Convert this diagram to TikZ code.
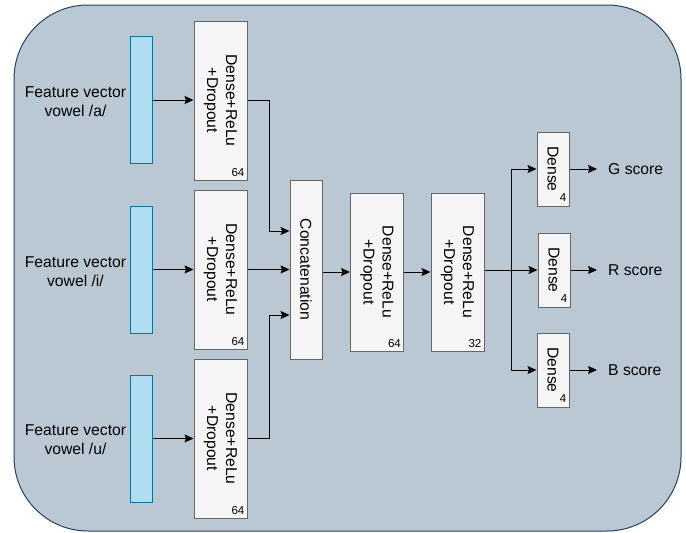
\documentclass[tikz,border=0pt]{standalone}
\usepackage{fontspec}
\setmainfont{Liberation Sans}
\usetikzlibrary{arrows.meta}
\definecolor{outerfill}{HTML}{BAC8D3}
\definecolor{outerdraw}{HTML}{23445D}
\definecolor{barfill}{HTML}{B1DDF0}
\definecolor{bardraw}{HTML}{10739E}
\definecolor{boxfill}{HTML}{F5F5F5}
\definecolor{boxdraw}{HTML}{666666}
\tikzset{
  outer/.style={draw=outerdraw, fill=outerfill, line width=1pt, rounded corners=74pt},
  featbar/.style={draw=bardraw, fill=barfill, line width=1pt, inner sep=0pt, minimum width=22pt, minimum height=127pt},
  layerbox/.style={draw=boxdraw, fill=boxfill, line width=1pt, inner sep=0pt},
  bigbox/.style={layerbox, minimum width=53pt, minimum height=159pt},
  smallbox/.style={layerbox, minimum width=32pt, minimum height=74pt},
  rottext/.style={rotate=-90, align=center, font=\fontsize{15.7}{19}\selectfont, inner sep=0pt},
  lbl/.style={align=center, font=\fontsize{15.7}{19}\selectfont, inner sep=0pt},
  unitlbl/.style={font=\fontsize{11.5}{13}\selectfont, inner sep=0pt, anchor=south east},
  conn/.style={draw=black, line width=1pt, -{Stealth[length=9pt, width=8pt, inset=1.5pt]}},
  plain/.style={draw=black, line width=1pt}
}
\begin{document}
\begin{tikzpicture}[x=1pt, y=-1pt]
\useasboundingbox (0,0) rectangle (686,533);
\path[outer] (14,5) rectangle (681,531);

% feature bars
\node[featbar] (fa) at (141,100) {};
\node[featbar] (fi) at (141,269.5) {};
\node[featbar] (fu) at (141,439) {};
\node[lbl] (ta) at (75.5,101.5) {Feature vector\\vowel /a/};
\node[lbl] (ti) at (75.5,272) {Feature vector\\vowel /i/};
\node[lbl] (tu) at (75.5,440) {Feature vector\\vowel /u/};

% first dense layers
\node[bigbox] (da) at (220.5,100.5) {};
\node[bigbox] (di) at (220.5,269.5) {};
\node[bigbox] (du) at (220.5,438.5) {};
\foreach \n in {da,di,du}{
  \node[rottext] (\n t) at (\n) {Dense+ReLu\\+Dropout};
  \node[unitlbl] (\n u) at ([xshift=-3pt,yshift=4pt]\n.south east) {64};
}

% concatenation
\node[layerbox, minimum width=32pt, minimum height=179pt] (cc) at (306,269.5) {};
\node[rottext] (cct) at (cc) {Concatenation};

% dense 64 and 32
\node[bigbox, minimum height=158pt] (d4) at (377,272) {};
\node[bigbox, minimum height=158pt] (d5) at (457.5,272) {};
\node[rottext] (d4t) at (d4) {Dense+ReLu\\+Dropout};
\node[rottext] (d5t) at (d5) {Dense+ReLu\\+Dropout};
\node[unitlbl] (d4u) at ([xshift=-3pt,yshift=4pt]d4.south east) {64};
\node[unitlbl] (d5u) at ([xshift=-3pt,yshift=4pt]d5.south east) {32};

% output dense layers
\node[smallbox] (og) at (553,169) {};
\node[smallbox] (or) at (554,270) {};
\node[smallbox] (ob) at (553,370) {};
\foreach \n in {og,or,ob}{
  \node[rottext] (\n t) at (\n) {Dense};
  \node[unitlbl] (\n u) at ([xshift=-3pt,yshift=5pt]\n.south east) {4};
}
\node[lbl, anchor=west] (sg) at (608,169) {G score};
\node[lbl, anchor=west] (sr) at (608,270) {R score};
\node[lbl, anchor=west] (sb) at (608,370) {B score};

% connectors
\draw[conn] (fa.east) -- (fa.east -| da.west);
\draw[conn] (fi.east) -- (fi.east -| di.west);
\draw[conn] (fu.east |- du.west) -- (du.west);

\coordinate (ja) at (269,231);
\coordinate (ju) at (269,315);
\draw[conn] (da.east) -| (ja) -- (ja -| cc.west);
\draw[conn] (di.east) -- (di.east -| cc.west);
\draw[conn] (du.east) -| (ju) -- (ju -| cc.west);

\draw[conn] (cc.east |- d4.west) -- (d4.west);
\draw[conn] (d4.east) -- (d5.west);

\coordinate (bg) at (511,169);
\coordinate (bb) at (511,370);
\draw[conn] (d5.east |- or.west) -- (or.west);
\draw[plain] (bg) -- (bb);
\draw[conn] (bg) -- (og.west);
\draw[conn] (bb) -- (ob.west);

\draw[conn] (og.east) -- ([xshift=-11pt]sg.west);
\draw[conn] (or.east) -- ([xshift=-11pt]sr.west);
\draw[conn] (ob.east) -- ([xshift=-11pt]sb.west);
\end{tikzpicture}
\end{document}
